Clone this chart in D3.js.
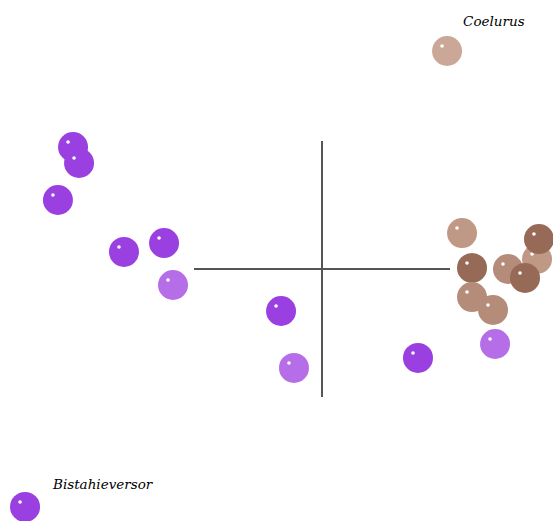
<!DOCTYPE html>
<html>
<head>
<meta charset="utf-8">
<script src="https://cdn.jsdelivr.net/npm/d3@7/dist/d3.min.js"></script>
<style>
  html, body { margin: 0; padding: 0; background: #fff; }
  svg { display: block; }
</style>
</head>
<body>
<svg id="chart"></svg>
<script>
const svgWidth = 553;
const svgHeight = 521;

// taxon names (only two are labelled)
const names = [
  "p1", "p2", "p3", "p4", "p5", "p6", "p7", "p8", "p9", "p10", "Bistahieversor",
  "b1", "b2", "b3", "b4", "b5", "b6", "b7", "b8", "Coelurus"
];
// ordination scores, axis 1 and axis 2
const axis1 = [
  -1.945, -1.898, -2.063, -1.547, -1.234, -1.164, -0.320, -0.219, 0.750, 1.352, -2.320,
  1.094, 1.680, 1.695, 1.172, 1.453, 1.586, 1.172, 1.336, 0.977
];
const axis2 = [
  0.953, 0.828, 0.539, 0.133, 0.203, -0.125, -0.328, -0.773, -0.695, -0.586, -1.859,
  0.281, 0.078, 0.234, 0.008, 0.000, -0.070, -0.219, -0.320, 1.703
];
// colour group of each point
const groups = [
  "purple", "purple", "purple", "purple", "purple", "lilac", "purple", "lilac", "purple", "lilac", "purple",
  "tan", "tan", "brown", "brown", "taupe", "brown", "taupe", "taupe", "pale"
];
const labelled = ["Coelurus", "Bistahieversor"];

const colors = {
  purple: "#9a3fe0",
  lilac: "#b56ee8",
  tan: "#bf9886",
  taupe: "#b58c7a",
  brown: "#976a57",
  pale: "#caa796"
};

const x = d3.scaleLinear().domain([-1, 1]).range([194, 450]);
const y = d3.scaleLinear().domain([-1, 1]).range([397, 141]);

const svg = d3.select("#chart")
  .attr("width", svgWidth)
  .attr("height", svgHeight);

// crosshair through the origin
svg.append("line")
  .attr("x1", x(-1)).attr("x2", x(1))
  .attr("y1", y(0)).attr("y2", y(0))
  .attr("stroke", "#555").attr("stroke-width", 2);
svg.append("line")
  .attr("x1", x(0)).attr("x2", x(0))
  .attr("y1", y(-1)).attr("y2", y(1))
  .attr("stroke", "#555").attr("stroke-width", 2);

const points = names.map((n, i) => ({ name: n, a1: axis1[i], a2: axis2[i], group: groups[i] }));

const g = svg.append("g")
  .selectAll("g")
  .data(points)
  .join("g")
  .attr("transform", d => "translate(" + x(d.a1) + "," + y(d.a2) + ")");

g.append("circle")
  .attr("r", 15)
  .attr("fill", d => colors[d.group]);

// little glint on each ball
g.append("circle")
  .attr("cx", -5).attr("cy", -5)
  .attr("r", 1.8)
  .attr("fill", "#fff");

// labels
const labelOffset = {
  Coelurus: [16, -25],
  Bistahieversor: [28, -18]
};
svg.selectAll("text.lab")
  .data(points.filter(d => labelled.includes(d.name)))
  .join("text")
  .attr("class", "lab")
  .attr("x", d => x(d.a1) + labelOffset[d.name][0])
  .attr("y", d => y(d.a2) + labelOffset[d.name][1])
  .attr("font-family", "'DejaVu Serif', serif")
  .attr("font-style", "italic")
  .attr("font-size", 13.5)
  .attr("fill", "#000")
  .text(d => d.name);
</script>
</body>
</html>
